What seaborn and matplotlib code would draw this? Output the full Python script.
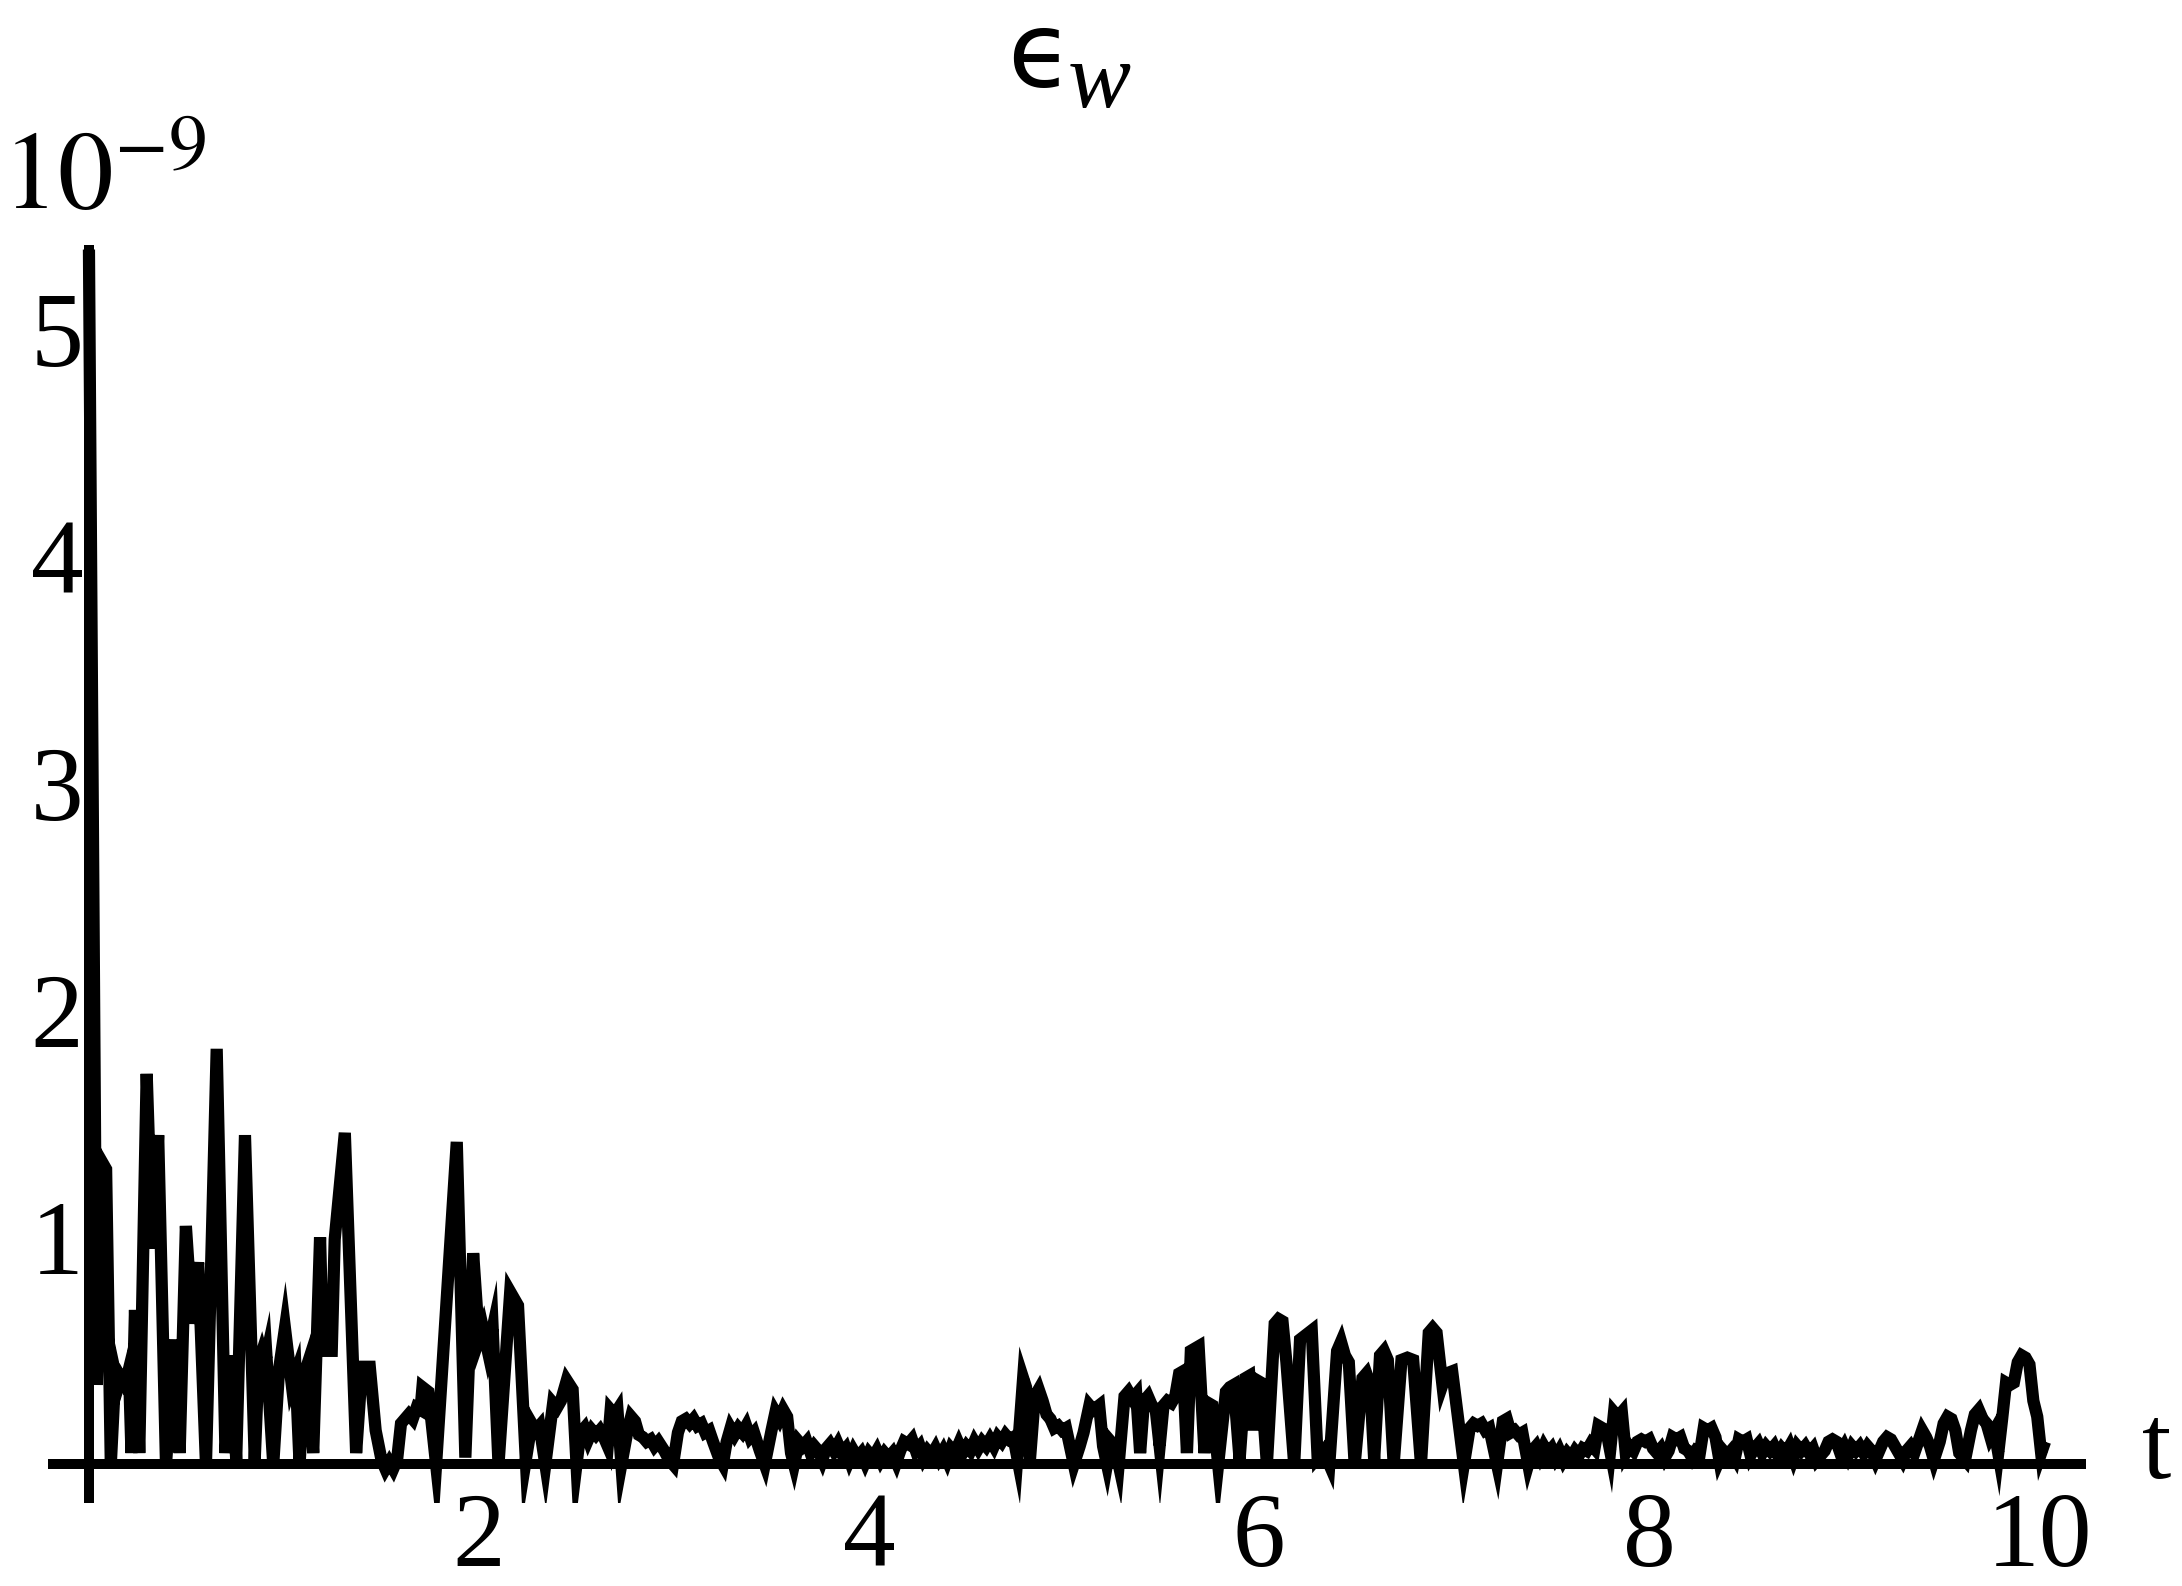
import matplotlib
matplotlib.use("Agg")
import matplotlib.pyplot as plt
import seaborn as sns
import pandas as pd

# (t, error in units of 1e-9), region by region
seg_early = [
    (0.000, 5.35), (0.040, 0.35), (0.068, 1.33), (0.088, 1.30), (0.112, 0.00),
    (0.135, 0.40), (0.150, 0.34), (0.165, 0.38), (0.185, 0.35), (0.205, 0.42),
    (0.218, 0.05), (0.236, 0.68), (0.258, 0.05), (0.296, 1.72), (0.325, 0.95),
    (0.355, 1.45), (0.395, 0.00), (0.440, 0.55), (0.465, 0.05), (0.497, 1.05),
    (0.530, 0.62), (0.560, 0.89), (0.600, 0.00), (0.655, 1.83), (0.700, 0.05),
    (0.730, 0.48), (0.755, 0.02), (0.800, 1.45), (0.850, 0.02), (0.870, 0.45),
    (0.885, 0.49), (0.900, 0.44), (0.910, 0.48), (0.945, 0.00), (0.975, 0.42),
    (1.005, 0.60), (1.040, 0.35), (1.060, 0.40), (1.080, 0.00), (1.105, 0.40),
    (1.120, 0.44), (1.150, 0.05), (1.185, 1.00), (1.200, 0.50), (1.245, 0.50),
    (1.260, 0.99), (1.312, 1.46), (1.370, 0.05), (1.400, 0.43), (1.440, 0.43),
    (1.470, 0.15), (1.500, 0.02), (1.520, -0.02), (1.540, 0.01), (1.560, -0.02),
    (1.580, 0.02), (1.600, 0.18), (1.620, 0.20), (1.640, 0.22), (1.660, 0.20),
    (1.680, 0.25), (1.700, 0.24), (1.710, 0.34), (1.740, 0.32), (1.780, 0.00),
    (1.886, 1.42), (1.930, 0.03), (1.970, 0.93), (2.000, 0.55), (2.020, 0.60),
    (2.045, 0.50), (2.070, 0.60), (2.100, 0.00), (2.160, 0.76), (2.200, 0.70),
    (2.240, 0.02), (2.270, 0.18), (2.290, 0.15), (2.310, 0.17), (2.340, 0.00),
    (2.380, 0.27), (2.400, 0.25), (2.420, 0.28), (2.450, 0.37), (2.480, 0.33),
]
seg_quiet1 = [
    (2.500, 0.00), (2.520, 0.14), (2.540, 0.16), (2.560, 0.11), (2.580, 0.15),
    (2.600, 0.13), (2.620, 0.15), (2.640, 0.12), (2.660, 0.08), (2.675, 0.24),
    (2.695, 0.22), (2.710, 0.24), (2.730, 0.00), (2.760, 0.14), (2.780, 0.21),
    (2.800, 0.19), (2.820, 0.13), (2.840, 0.12), (2.860, 0.10), (2.880, 0.11),
    (2.900, 0.08), (2.920, 0.10), (2.950, 0.06), (2.975, 0.02), (2.995, 0.00),
    (3.020, 0.14), (3.040, 0.19), (3.060, 0.20), (3.080, 0.18), (3.100, 0.20),
    (3.120, 0.17), (3.140, 0.18), (3.160, 0.14), (3.180, 0.15), (3.200, 0.10),
    (3.230, 0.03), (3.250, 0.00), (3.270, 0.10), (3.290, 0.16), (3.310, 0.13),
    (3.330, 0.16), (3.350, 0.14), (3.370, 0.17), (3.390, 0.12), (3.410, 0.14),
    (3.440, 0.06), (3.465, 0.00), (3.500, 0.15), (3.520, 0.23), (3.540, 0.20),
    (3.560, 0.24), (3.580, 0.21), (3.600, 0.05), (3.615, 0.00), (3.640, 0.10),
    (3.660, 0.08), (3.680, 0.10), (3.700, 0.05), (3.720, 0.08), (3.740, 0.06),
    (3.760, 0.02), (3.780, 0.07), (3.800, 0.09), (3.820, 0.06), (3.840, 0.09),
    (3.860, 0.05), (3.880, 0.07), (3.900, 0.02), (3.920, 0.06), (3.940, 0.03),
    (3.960, 0.05), (3.980, 0.01), (4.000, 0.05), (4.020, 0.03), (4.040, 0.06),
    (4.060, 0.02), (4.080, 0.05), (4.100, 0.03), (4.120, 0.05), (4.140, 0.01),
    (4.160, 0.06), (4.180, 0.10), (4.200, 0.09), (4.220, 0.11), (4.240, 0.06),
    (4.260, 0.08), (4.280, 0.03), (4.300, 0.06), (4.320, 0.04), (4.340, 0.07),
    (4.360, 0.03), (4.380, 0.06), (4.400, 0.02), (4.420, 0.07), (4.440, 0.05),
    (4.460, 0.09), (4.480, 0.05), (4.500, 0.08), (4.520, 0.06), (4.540, 0.10),
    (4.560, 0.07), (4.580, 0.10), (4.600, 0.08), (4.620, 0.11), (4.640, 0.08),
    (4.660, 0.12), (4.680, 0.10), (4.700, 0.13), (4.720, 0.11), (4.740, 0.12),
]
seg_middle = [
    (4.760, 0.03), (4.790, 0.38), (4.805, 0.34), (4.825, 0.02), (4.850, 0.30),
    (4.870, 0.33), (4.890, 0.28), (4.910, 0.22), (4.930, 0.20), (4.950, 0.16),
    (4.970, 0.17), (4.990, 0.15), (5.010, 0.16), (5.030, 0.08), (5.050, 0.00),
    (5.080, 0.08), (5.100, 0.14), (5.130, 0.26), (5.150, 0.24), (5.180, 0.26),
    (5.200, 0.08), (5.220, 0.00), (5.240, 0.10), (5.260, 0.08), (5.280, 0.00),
    (5.310, 0.30), (5.330, 0.32), (5.350, 0.29), (5.370, 0.31), (5.390, 0.05),
    (5.410, 0.28), (5.430, 0.30), (5.450, 0.26), (5.470, 0.24), (5.490, 0.08),
    (5.510, 0.26), (5.530, 0.28), (5.550, 0.27), (5.570, 0.30), (5.590, 0.40),
    (5.610, 0.41), (5.630, 0.05), (5.650, 0.50), (5.670, 0.51), (5.690, 0.52),
    (5.720, 0.05), (5.740, 0.27), (5.760, 0.26), (5.790, 0.00), (5.830, 0.32),
    (5.850, 0.34), (5.870, 0.35), (5.900, 0.02), (5.930, 0.38), (5.950, 0.39),
    (5.970, 0.15), (5.990, 0.37), (6.010, 0.36), (6.040, 0.00), (6.080, 0.62),
    (6.100, 0.64), (6.120, 0.63), (6.140, 0.45), (6.180, 0.00), (6.210, 0.55),
    (6.240, 0.57), (6.270, 0.59), (6.300, 0.03), (6.330, 0.06), (6.360, 0.00),
    (6.400, 0.50), (6.420, 0.54), (6.440, 0.48), (6.460, 0.45), (6.490, 0.00),
    (6.530, 0.38), (6.550, 0.40), (6.570, 0.35), (6.590, 0.02), (6.620, 0.48),
    (6.640, 0.50), (6.660, 0.46), (6.690, 0.00), (6.730, 0.46), (6.760, 0.47),
    (6.790, 0.46), (6.830, 0.00), (6.870, 0.58), (6.890, 0.60), (6.910, 0.58),
    (6.940, 0.35), (6.960, 0.40), (6.990, 0.41), (7.050, 0.00),
]
seg_late = [
    (7.080, 0.16), (7.100, 0.18), (7.120, 0.17), (7.140, 0.18), (7.160, 0.15),
    (7.180, 0.16), (7.220, 0.00), (7.250, 0.19), (7.270, 0.20), (7.290, 0.14),
    (7.310, 0.15), (7.330, 0.13), (7.350, 0.14), (7.380, 0.00), (7.400, 0.06),
    (7.420, 0.08), (7.440, 0.04), (7.460, 0.08), (7.480, 0.05), (7.500, 0.07),
    (7.520, 0.03), (7.540, 0.06), (7.560, 0.02), (7.580, 0.05), (7.600, 0.03),
    (7.620, 0.06), (7.640, 0.04), (7.660, 0.07), (7.680, 0.06), (7.700, 0.09),
    (7.720, 0.07), (7.740, 0.17), (7.760, 0.16), (7.780, 0.15), (7.800, 0.06),
    (7.820, 0.23), (7.840, 0.21), (7.860, 0.23), (7.880, 0.05), (7.900, 0.08),
    (7.920, 0.06), (7.940, 0.10), (7.960, 0.11), (7.980, 0.10), (8.000, 0.11),
    (8.020, 0.07), (8.040, 0.05), (8.060, 0.07), (8.080, 0.03), (8.100, 0.06),
    (8.120, 0.12), (8.140, 0.11), (8.160, 0.12), (8.180, 0.07), (8.200, 0.06),
    (8.220, 0.03), (8.240, 0.06), (8.260, 0.05), (8.280, 0.16), (8.300, 0.15),
    (8.320, 0.16), (8.340, 0.12), (8.360, 0.02), (8.380, 0.06), (8.400, 0.04),
    (8.420, 0.06), (8.440, 0.03), (8.460, 0.11), (8.480, 0.10), (8.500, 0.11),
    (8.520, 0.04), (8.540, 0.07), (8.560, 0.09), (8.580, 0.05), (8.600, 0.08),
    (8.620, 0.06), (8.640, 0.08), (8.660, 0.04), (8.680, 0.07), (8.700, 0.05),
    (8.720, 0.08), (8.740, 0.03), (8.760, 0.08), (8.780, 0.06), (8.800, 0.08),
    (8.820, 0.05), (8.840, 0.07), (8.860, 0.02), (8.880, 0.04), (8.900, 0.06),
    (8.920, 0.10), (8.940, 0.11), (8.960, 0.10), (8.980, 0.05), (9.000, 0.08),
    (9.020, 0.04), (9.040, 0.08), (9.060, 0.06), (9.080, 0.08), (9.100, 0.05),
    (9.120, 0.08), (9.140, 0.06), (9.160, 0.02), (9.180, 0.06), (9.200, 0.10),
    (9.220, 0.12), (9.240, 0.11), (9.260, 0.08), (9.280, 0.05), (9.300, 0.02),
    (9.320, 0.06), (9.340, 0.08), (9.360, 0.05), (9.380, 0.10), (9.400, 0.15),
    (9.420, 0.12), (9.440, 0.08), (9.460, 0.02), (9.490, 0.10), (9.510, 0.18),
    (9.530, 0.21), (9.550, 0.20), (9.570, 0.15), (9.590, 0.05), (9.620, 0.02),
    (9.650, 0.15), (9.670, 0.22), (9.690, 0.24), (9.710, 0.20), (9.730, 0.18),
    (9.750, 0.12), (9.770, 0.15), (9.790, 0.05), (9.810, 0.20), (9.830, 0.36),
    (9.850, 0.35), (9.870, 0.36), (9.890, 0.45), (9.910, 0.48), (9.930, 0.47),
    (9.950, 0.44), (9.970, 0.28), (9.990, 0.21), (10.010, 0.05), (10.030, 0.10),
]
x_ticks = [2, 4, 6, 8, 10]
y_ticks = [1, 2, 3, 4, 5]
scale_label = r"$10^{-9}$"
x_label = "t"

sns.set_theme(style="white")
plt.rcParams["font.family"] = ["Liberation Serif", "DejaVu Serif"]
plt.rcParams["mathtext.fontset"] = "stix"
plt.rcParams["text.color"] = "black"

W, H, DPI = 2182, 1586, 200
fig = plt.figure(figsize=(W / DPI, H / DPI), dpi=DPI)
fig.patch.set_facecolor("white")

x0, x1 = -0.21, 10.24
y0, y1 = -0.17, 5.37
left_px, right_px = 48, 2086
bottom_px, top_px = 1503, 245
ax = fig.add_axes([left_px / W, (H - bottom_px) / H,
                   (right_px - left_px) / W, (bottom_px - top_px) / H])
ax.set_facecolor("white")

rows = seg_early + seg_quiet1 + seg_middle + seg_late
df = pd.DataFrame(rows, columns=["t", "err"])
sns.lineplot(data=df, x="t", y="err", ax=ax, color="black", linewidth=4.4,
             estimator=None, sort=False, solid_joinstyle="miter",
             solid_capstyle="butt")

ax.set_xlim(x0, x1)
ax.set_ylim(y0, y1)
ax.set_xlabel("")
ax.set_ylabel("")

for s in ["top", "right"]:
    ax.spines[s].set_visible(False)
for s in ["left", "bottom"]:
    ax.spines[s].set_position(("data", 0))
    ax.spines[s].set_linewidth(3.6)
    ax.spines[s].set_color("black")
    ax.spines[s].set_capstyle("butt")

ax.set_xticks(x_ticks)
ax.set_xticklabels([str(v) for v in x_ticks])
ax.set_yticks(y_ticks)
ax.set_yticklabels([str(v) for v in y_ticks])
ax.tick_params(axis="x", direction="in", length=3, width=1.2, pad=10,
               labelsize=38, colors="black")
ax.tick_params(axis="y", direction="in", length=3, width=1.2, pad=2,
               labelsize=38, colors="black")
ax.grid(False)

ax.text(10.60, 0.05, x_label, fontsize=38, ha="center", va="center",
        color="black", clip_on=False)

fig.text(0.001, 1 - 209 / H, scale_label, fontsize=40, ha="left",
         va="baseline", color="black")
# title: lunate epsilon with italic subscript w
fig.text(1040 / W, 1 - 58 / H, "\u03f5", fontsize=38, ha="center",
         va="center", color="black", family=["DejaVu Sans"])
fig.text(1099 / W, 1 - 84 / H, "w", fontsize=34, ha="center",
         va="center", color="black", style="italic",
         family=["Liberation Serif"])

fig.savefig("out.png", dpi=DPI, facecolor="white")
